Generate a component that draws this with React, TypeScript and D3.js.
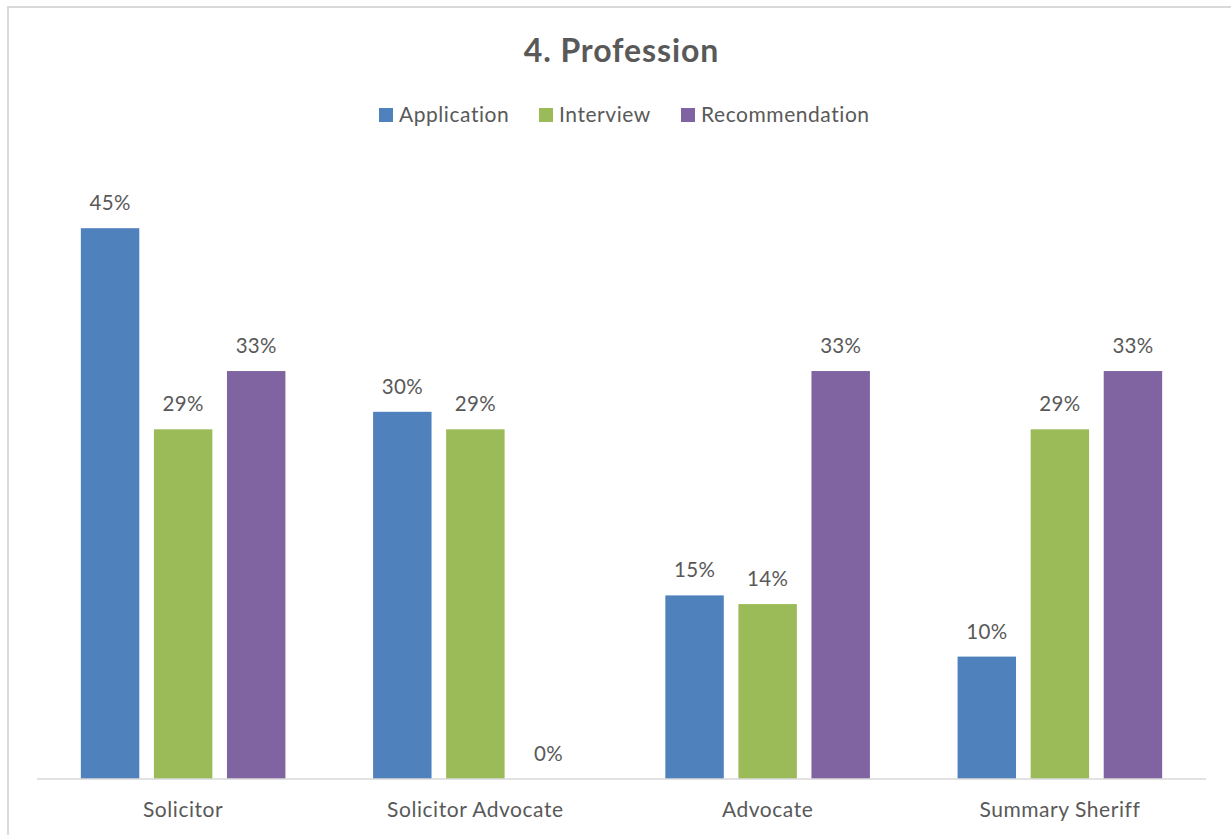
import React from "react";
import * as d3 from "d3";

const categories = ["Solicitor", "Solicitor Advocate", "Advocate", "Summary Sheriff"];
const seriesNames = ["Application", "Interview", "Recommendation"];
const application = [0.45, 0.30, 0.15, 0.10];
const interview = [0.2857, 0.2857, 0.1429, 0.2857];
const recommendation = [0.3333, 0.0, 0.3333, 0.3333];
const seriesColors = ["#4F81BD", "#9BBB59", "#8064A2"];
const yDomain = [0, 0.5];

const W = 1231;
const H = 835;
const FONT = "Lato, 'Open Sans', sans-serif";
const TEXT = "#595959";

export default function App() {
  const seriesValues = [application, interview, recommendation];
  const x0 = d3.scaleBand<string>().domain(categories).range([37, 1206]).padding(0);
  const groupW = x0.bandwidth() * 0.7;
  const x1 = d3.scaleBand<string>().domain(seriesNames).range([0, groupW]).paddingInner(0.2).paddingOuter(0);
  const y = d3.scaleLinear().domain(yDomain).range([779, 167]);
  const fmt = d3.format(".0%");

  const legendItems = [
    { name: seriesNames[0], x: 379 },
    { name: seriesNames[1], x: 539 },
    { name: seriesNames[2], x: 681 },
  ];

  return (
    <svg width={W} height={H} style={{ position: "absolute", left: 0, top: 0, display: "block" }} fontFamily={FONT}>
      <rect x={0} y={0} width={W} height={H} fill="#fff" />
      <rect x={8} y={7} width={W + 20} height={H + 20} fill="#fff" stroke="#d9d9d9" strokeWidth={2} />
      <text x={621.5} y={62} textAnchor="middle" fontSize={32} letterSpacing={0.9} fontWeight="bold" fill={TEXT}>4. Profession</text>
      {legendItems.map((l, i) => (
        <g key={l.name}>
          <rect x={l.x} y={108} width={14} height={14} fill={seriesColors[i]} />
          <text x={l.x + 20} y={122} fontSize={21} letterSpacing={0.55} fill={TEXT}>{l.name}</text>
        </g>
      ))}
      {categories.map((c, ci) => {
        const gx = x0(c)! + (x0.bandwidth() - groupW) / 2;
        return (
          <g key={c}>
            {seriesNames.map((s, si) => {
              const v = seriesValues[si][ci];
              const bx = gx + x1(s)!;
              const by = y(v);
              return (
                <g key={s}>
                  {v > 0 && (
                    <rect x={bx} y={by} width={x1.bandwidth()} height={y(0) - by} fill={seriesColors[si]} />
                  )}
                  <text x={bx + x1.bandwidth() / 2} y={by - 18} textAnchor="middle" fontSize={20.5} letterSpacing={0.3} fill={TEXT}>
                    {fmt(v)}
                  </text>
                </g>
              );
            })}
            <text x={x0(c)! + x0.bandwidth() / 2} y={817} textAnchor="middle" fontSize={21} letterSpacing={0.55} fill={TEXT}>{c}</text>
          </g>
        );
      })}
      <line x1={37} x2={1206} y1={779} y2={779} stroke="#d9d9d9" strokeWidth={1.5} />
    </svg>
  );
}
